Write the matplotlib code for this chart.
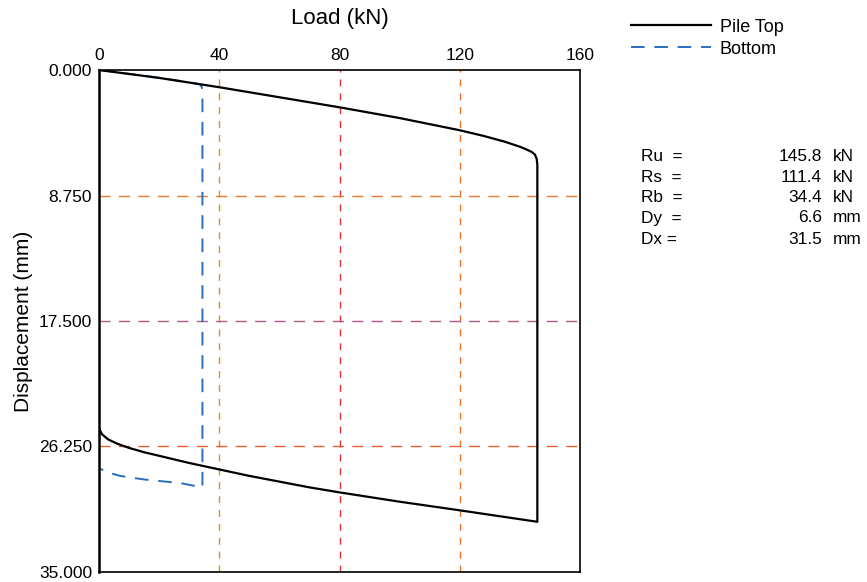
import matplotlib
matplotlib.use("Agg")
import matplotlib.pyplot as plt

plt.rcParams['font.family'] = ['Liberation Sans', 'DejaVu Sans']

# pile top curve (load kN, displacement mm)
top_load = [0, 20, 40, 60, 80, 100, 120, 128, 135, 140, 142, 144, 145, 145.6, 145.8,
            145.8, 120, 100, 80, 70, 60, 50, 40, 30, 20, 15, 10, 6, 3, 1, 0]
top_disp = [0, 0.55, 1.2, 1.9, 2.6, 3.35, 4.2, 4.6, 5.0, 5.35, 5.52, 5.72, 5.9, 6.2, 6.6,
            31.5, 30.7, 30.1, 29.45, 29.1, 28.7, 28.3, 27.85, 27.4, 26.9, 26.65, 26.35,
            26.05, 25.75, 25.4, 25.0]

# pile bottom curve
bot_load = [0, 15, 30, 33.5, 34.2, 34.4, 34.4, 27, 15, 7, 2, 0.5]
bot_disp = [0, 0.4, 0.85, 1.0, 1.2, 1.5, 29.1, 28.8, 28.55, 28.3, 28.0, 27.8]

x_ticks = [0, 40, 80, 120, 160]
y_ticks = [0.0, 8.75, 17.5, 26.25, 35.0]

stat_names = ['Ru  =', 'Rs  =', 'Rb  =', 'Dy  =', 'Dx =']
stat_values = ['145.8', '111.4', '34.4', '6.6', '31.5']
stat_units = ['kN', 'kN', 'kN', 'mm', 'mm']

# grid line colours like the scanned plot
vgrid = {40: '#d9902a', 80: '#e0303a', 120: '#e8742a'}
hgrid = {8.75: '#e87a30', 17.5: '#b05a86', 26.25: '#e8602e'}

fig = plt.figure(figsize=(8.67, 5.82), dpi=100)
ax = fig.add_axes([0.1142, 0.0172, 0.5548, 0.8625])

for x, c in vgrid.items():
    ax.axvline(x, color=c, lw=1.0, dashes=(5, 5), zorder=1)
for y, c in hgrid.items():
    ax.axhline(y, color=c, lw=1.0, dashes=(8, 6), zorder=1)

ax.plot(top_load, top_disp, color='black', lw=1.6, label='Pile Top', zorder=3)
ax.plot(bot_load, bot_disp, color='#2a6ebb', lw=1.4, dashes=(7, 5),
        label='Bottom', zorder=2)

ax.set_xlim(0, 160)
ax.set_ylim(35, 0)
ax.xaxis.tick_top()
ax.xaxis.set_label_position('top')
ax.set_xticks(x_ticks)
ax.set_yticks(y_ticks)
ax.set_yticklabels([f"{v:.3f}" for v in y_ticks])
ax.tick_params(length=0, labelsize=12.5, pad=5)
ax.set_xlabel('Load (kN)', fontsize=16, labelpad=17)
ax.set_ylabel('Displacement (mm)', fontsize=15, labelpad=4)
for s in ax.spines.values():
    s.set_linewidth(1.2)
ax.spines['left'].set_linewidth(1.8)

fig.legend(loc='upper left', bbox_to_anchor=(0.728, 0.968), frameon=False,
           fontsize=13, handlelength=4.4, handletextpad=0.5,
           labelspacing=0.28, borderpad=0, borderaxespad=0)

row_y = [157, 178, 198, 218, 239]
for name, val, unit, y in zip(stat_names, stat_values, stat_units, row_y):
    fy = 1 - y / 582
    fig.text(641 / 867, fy, name, fontsize=12.4, va='center', ha='left')
    fig.text(822 / 867, fy, val, fontsize=12.4, va='center', ha='right')
    fig.text(833 / 867, fy, unit, fontsize=12.4, va='center', ha='left')

fig.savefig('out.png', dpi=100)
